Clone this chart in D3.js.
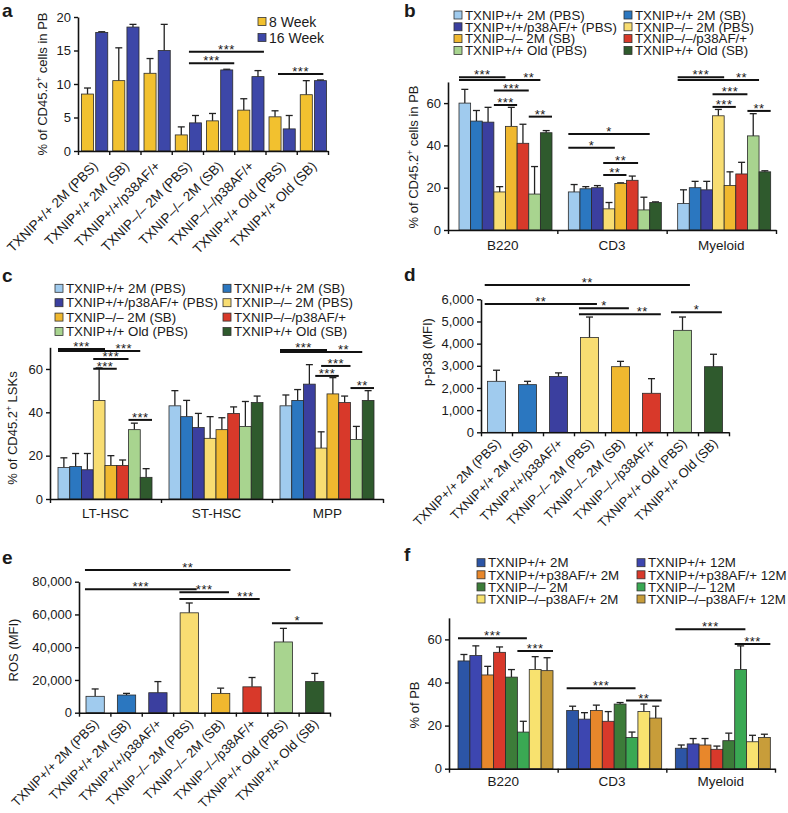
<!DOCTYPE html>
<html>
<head>
<meta charset="utf-8">
<script src="https://cdn.jsdelivr.net/npm/d3@7"></script>
<style>
  body { margin: 0; background: #fff; }
  text { font-family: "Liberation Sans", Arial, Helvetica, sans-serif; fill: #1a1a1a; }
</style>
</head>
<body>
<svg id="fig" width="788" height="813"></svg>
<script>
// ---- panel a ----
var aCats = ["TXNIP+/+ 2M (PBS)", "TXNIP+/+ 2M (SB)", "TXNIP+/+/p38AF/+", "TXNIP–/– 2M (PBS)",
             "TXNIP–/– 2M (SB)", "TXNIP–/–/p38AF/+", "TXNIP+/+ Old (PBS)", "TXNIP+/+ Old (SB)"];
var aSeries = ["8 Week", "16 Week"];
var aColors = ["#f2c12f", "#3d47a8"];
var a8w = [8.5, 10.5, 11.6, 2.4, 4.5, 6.1, 5.1, 8.4];
var a8wTop = [9.4, 15.4, 13.8, 3.6, 5.6, 7.8, 6.0, 10.5];
var a16w = [17.7, 18.5, 15.0, 4.2, 12.1, 11.1, 3.3, 10.5];
var a16wTop = [17.8, 18.9, 18.9, 5.3, 12.2, 12.0, 5.3, 10.6];
var aTicks = [0, 5, 10, 15, 20];
// [from, to (group units), y, label]
var aSig = [[3.55, 5.95, 14.8, "***"], [3.55, 5.0, 13.1, "***"], [6.4, 7.85, 11.5, "***"]];

// ---- panels b, c, d, e share these groups ----
var grpLegend = ["TXNIP+/+ 2M (PBS)", "TXNIP+/+ 2M (SB)", "TXNIP+/+/p38AF/+ (PBS)", "TXNIP–/– 2M (PBS)",
                 "TXNIP–/– 2M (SB)", "TXNIP–/–/p38AF/+", "TXNIP+/+ Old (PBS)", "TXNIP+/+ Old (SB)"];
var grpColors = ["#a0cbee", "#2b77c0", "#3b3f9f", "#f8dd72", "#f0b82f", "#d8392a", "#a8d48f", "#2f5a2d"];

// ---- panel b ----
var bCats = ["B220", "CD3", "Myeloid"];
var bB220 = [60, 51.5, 51, 18, 49, 41, 17, 46];
var bB220Top = [66.5, 56.5, 58, 20.5, 58, 50, 30, 47];
var bCD3 = [18, 19.5, 20, 10, 22, 23.5, 9.5, 13];
var bCD3Top = [21.5, 20.5, 21, 13, 22.3, 25.5, 15.5, 13.3];
var bMyeloid = [12.5, 20, 19, 54, 21, 26.5, 44.5, 27.5];
var bMyeloidTop = [19, 23, 23, 57, 27.5, 32, 55, 28];
var bTicks = [0, 20, 40, 60];
// [category, from, to (bar units), y, label, label position]
var bSig = [[0, 0, 4, 72.2, "***"], [0, 0, 7, 70.9, "**", 6], [0, 3, 6, 65.9, "***"], [0, 3, 5, 59.1, "***"], [0, 6, 8, 53.6, "**"],
            [1, 0, 7, 45.4, "*"], [1, 0, 4, 38.9, "*"], [1, 3, 6, 31.7, "**"], [1, 3, 5, 26.0, "**"],
            [2, 0, 4, 72.2, "***"], [2, 0, 7, 70.9, "**", 5.5], [2, 3, 6, 64.2, "***"], [2, 3, 5, 58.2, "***"], [2, 6, 8, 56.3, "**"]];

// ---- panel c ----
var cCats = ["LT-HSC", "ST-HSC", "MPP"];
var cLT = [14.5, 15, 13.5, 45.5, 15.5, 15.5, 32, 10];
var cLTTop = [19, 21, 21, 60.5, 20, 18, 35, 14];
var cST = [43, 38, 33, 28, 32, 39.5, 33.5, 44.5];
var cSTTop = [50, 45.5, 39.5, 38, 37.5, 42.5, 45, 47.5];
var cMPP = [43, 45.5, 53, 23.5, 48.5, 44.5, 27.5, 45.5];
var cMPPTop = [48, 50.5, 62, 31, 56, 47.5, 33.5, 50];
var cTicks = [0, 20, 40, 60];
var cSig = [[0, 0, 4, 69.2, "***"], [0, 0, 7, 68.3, "***", 5.6], [0, 3, 6, 64.6, "***"], [0, 3, 5, 60.1, "***"], [0, 6, 8, 36.5, "***"],
            [2, 0, 4, 68.8, "***"], [2, 0, 7, 67.8, "**", 5.4], [2, 3.5, 6, 61.4, "***"], [2, 3, 5, 56.8, "***"], [2, 6, 8, 51.2, "**"]];

// ---- panel d ----
var dVals = [2300, 2150, 2520, 4280, 2960, 1760, 4600, 2960];
var dTop = [2800, 2300, 2680, 5200, 3200, 2420, 5200, 3520];
var dTicks = [0, 1000, 2000, 3000, 4000, 5000, 6000];
var dSig = [[0.12, 6.74, 6644, "**"], [0.12, 3.74, 5787, "**"], [3.16, 4.77, 5593, "*"], [3.16, 5.8, 5322, "**", 5.2], [6.13, 7.77, 5413, "*"]];

// ---- panel e ----
var eVals = [10000, 10800, 12200, 61000, 11800, 15800, 43200, 19000];
var eTop = [14500, 11800, 19000, 67000, 15000, 21500, 51500, 24000];
var eTicks = [0, 20000, 40000, 60000, 80000];
var eSig = [[0.19, 6.74, 87150, "**"], [0.19, 3.75, 75360, "***"], [3.2, 4.78, 73530, "***"], [3.2, 5.76, 69430, "***", 5.3], [6.15, 7.77, 54600, "*"]];

// ---- panel f ----
var fLegend = ["TXNIP+/+ 2M", "TXNIP+/+ 12M", "TXNIP+/+p38AF/+ 2M", "TXNIP+/+p38AF/+ 12M",
               "TXNIP–/– 2M", "TXNIP–/– 12M", "TXNIP–/–p38AF/+ 2M", "TXNIP–/–p38AF/+ 12M"];
var fColors = ["#2c55a6", "#3d46b0", "#e8872b", "#d8392b", "#3c7c39", "#3aa853", "#f8e26f", "#c89d3a"];
var fCats = ["B220", "CD3", "Myeloid"];
var fB220 = [50, 52.5, 43.5, 54, 42.5, 17, 46, 45.5];
var fB220Top = [53, 57, 47.5, 56.5, 46, 22, 52, 51.5];
var fCD3 = [27, 23, 27, 22, 30, 14.5, 26.5, 23.5];
var fCD3Top = [29, 26, 29.5, 26.5, 30.7, 17, 30, 29];
var fMyeloid = [9.5, 11.5, 11, 9, 13, 46, 12.5, 14.5];
var fMyeloidTop = [11, 14, 14, 10.5, 16.5, 57, 15.5, 16];
var fTicks = [0, 20, 40, 60];
var fSig = [[0, 0, 5.8, 60.5, "***"], [0, 5, 8, 54.6, "***"], [1, 0, 5.8, 37.3, "***"], [1, 5, 8, 31.6, "**"],
            [2, 0, 5.9, 64.7, "***"], [2, 5, 8, 57.9, "***"]];

var svg = d3.select("#fig");

function panel(o) {
    var g = svg.append("g");
    var n = o.cats.length;
    var y = d3.scaleLinear().domain([0, o.ymax]).range([o.y0, o.yTop]);
    var x = d3.scaleBand().domain(d3.range(n)).range([o.x0, o.x1]);
    var xi = d3.scaleBand().domain(d3.range(o.rows[0].length)).range(o.inner).paddingInner(o.pad || 0);
    var xu = d3.scaleLinear().domain([0, n]).range([o.x0, o.x1]);

    var flat = [];
    o.rows.forEach(function(row, ci) {
        row.forEach(function(v, si) {
            flat.push({ci: ci, si: si, v: v, top: o.tops[ci][si]});
        });
    });

    // error bars first, bars drawn over them
    var eb = g.selectAll("g.err").data(flat).join("g").attr("class", "err")
        .attr("stroke", "#222").attr("stroke-width", 1.3);
    eb.append("line")
        .attr("x1", function(d) { return x(d.ci) + xi(d.si) + xi.bandwidth() / 2; })
        .attr("x2", function(d) { return x(d.ci) + xi(d.si) + xi.bandwidth() / 2; })
        .attr("y1", function(d) { return y(d.v); })
        .attr("y2", function(d) { return y(d.top); });
    eb.append("line")
        .attr("x1", function(d) { return x(d.ci) + xi(d.si) + xi.bandwidth() / 2 - 3.5; })
        .attr("x2", function(d) { return x(d.ci) + xi(d.si) + xi.bandwidth() / 2 + 3.5; })
        .attr("y1", function(d) { return y(d.top); })
        .attr("y2", function(d) { return y(d.top); });

    g.selectAll("rect.bar").data(flat).join("rect").attr("class", "bar")
        .attr("x", function(d) { return x(d.ci) + xi(d.si); })
        .attr("width", xi.bandwidth())
        .attr("y", function(d) { return y(d.v); })
        .attr("height", function(d) { return o.y0 - y(d.v); })
        .attr("fill", function(d) { return o.color(d.ci, d.si); })
        .attr("stroke", "#2a2a2a").attr("stroke-width", 0.8);

    // axes
    var ya = g.append("g").attr("transform", "translate(" + o.x0 + ",0)")
        .call(d3.axisLeft(y).tickValues(o.ticks).tickSize(4).tickSizeOuter(0).tickFormat(o.fmt || d3.format("d")));
    var xa = g.append("g").attr("transform", "translate(0," + o.y0 + ")")
        .call(d3.axisBottom(xu).tickValues(d3.range(n + 1)).tickSize(4).tickSizeOuter(0).tickFormat(""));
    [ya, xa].forEach(function(a) {
        a.select(".domain").attr("stroke", "#111").attr("stroke-width", 1.6);
        a.selectAll(".tick line").attr("stroke", "#111").attr("stroke-width", 1.4);
        a.selectAll(".tick text").attr("font-size", 13).attr("fill", "#1a1a1a")
            .attr("font-family", "Liberation Sans, Arial, sans-serif");
    });
    ya.selectAll(".tick text").attr("x", -7);

    // category labels
    if (o.rotate) {
        g.selectAll("text.cat").data(o.cats).join("text").attr("class", "cat")
            .attr("transform", function(d, i) {
                return "translate(" + (x(i) + x.bandwidth() / 2 + 5) + "," + (o.y0 + o.catDy) + ") rotate(-45)";
            })
            .attr("text-anchor", "end").attr("font-size", o.catSize)
            .text(function(d) { return d; });
    } else {
        g.selectAll("text.cat").data(o.cats).join("text").attr("class", "cat")
            .attr("x", function(d, i) { return x(i) + x.bandwidth() / 2; })
            .attr("y", o.y0 + o.catDy)
            .attr("text-anchor", "middle").attr("font-size", 13.5)
            .text(function(d) { return d; });
    }

    // significance bars
    var sx = function(s, u) {
        return o.sigByBar ? x(s[0]) + o.inner[0] + u * xi.step() : xu(u);
    };
    var k = o.sigByBar ? 1 : 0;
    var sg = g.selectAll("g.sig").data(o.sig).join("g").attr("class", "sig");
    sg.append("line")
        .attr("x1", function(s) { return sx(s, s[k]); })
        .attr("x2", function(s) { return sx(s, s[k + 1]); })
        .attr("y1", function(s) { return y(s[k + 2]); })
        .attr("y2", function(s) { return y(s[k + 2]); })
        .attr("stroke", "#111").attr("stroke-width", 2);
    sg.append("text")
        .attr("x", function(s) { return sx(s, s[k + 4] != null ? s[k + 4] : (s[k] + s[k + 1]) / 2); })
        .attr("y", function(s) { return y(s[k + 2]) + 2; })
        .attr("text-anchor", "middle").attr("font-size", 13).attr("letter-spacing", 0.5)
        .text(function(s) { return s[k + 3]; });

    // y title
    var t = g.append("text")
        .attr("transform", "translate(" + o.tx + "," + o.ty + ") rotate(-90)")
        .attr("text-anchor", "middle").attr("dy", "0.35em").attr("font-size", 13);
    o.title.forEach(function(p) {
        var ts = t.append("tspan").text(p[0]);
        if (p[1]) ts.attr("baseline-shift", "super").attr("font-size", 8.5);
    });

    // panel letter
    g.append("text").attr("x", o.lx).attr("y", o.ly)
        .attr("font-size", 19).attr("font-weight", "bold").text(o.letter);
    return g;
}

function legend(items, colors, xs, y0, dy, size) {
    var g = svg.append("g");
    var it = g.selectAll("g").data(items).join("g")
        .attr("transform", function(d, i) {
            return "translate(" + xs[i % xs.length] + "," + (y0 + Math.floor(i / xs.length) * dy) + ")";
        });
    it.append("rect").attr("x", 0).attr("y", -4).attr("width", 8).attr("height", 8)
        .attr("fill", function(d, i) { return colors[i]; })
        .attr("stroke", "#333").attr("stroke-width", 0.8);
    it.append("text").attr("x", 11).attr("dy", "0.36em").attr("font-size", size)
        .text(function(d) { return d; });
}

var pbTitle = [["% of CD45.2"], ["+", true], [" cells in PB"]];

// a
panel({
    letter: "a", lx: 2, ly: 17,
    cats: aCats, rows: aCats.map(function(c, i) { return [a8w[i], a16w[i]]; }),
    tops: aCats.map(function(c, i) { return [a8wTop[i], a16wTop[i]]; }),
    color: function(ci, si) { return aColors[si]; },
    x0: 78, x1: 328, y0: 151, yTop: 17, ymax: 20, ticks: aTicks,
    inner: [3.5, 29.75], pad: 0.15, rotate: true, catDy: 16, catSize: 13.5,
    sig: aSig, sigByBar: false, title: pbTitle, tx: 42, ty: 84
});
legend(aSeries, aColors, [258], 21.5, 16, 14);

// b
panel({
    letter: "b", lx: 404, ly: 17,
    cats: bCats, rows: [bB220, bCD3, bMyeloid], tops: [bB220Top, bCD3Top, bMyeloidTop],
    color: function(ci, si) { return grpColors[si]; },
    x0: 448, x1: 776, y0: 230, yTop: 230 - 70 * 2.115, ymax: 70, ticks: bTicks, catDy: 20,
    inner: [11, 104], sig: bSig, sigByBar: true, title: pbTitle, tx: 413, ty: 157
});
legend(grpLegend, grpColors, [454, 624], 15, 11.8, 13.3);

// c
panel({
    letter: "c", lx: 2, ly: 282,
    cats: cCats, rows: [cLT, cST, cMPP], tops: [cLTTop, cSTTop, cMPPTop],
    color: function(ci, si) { return grpColors[si]; },
    x0: 50, x1: 383, y0: 499, yTop: 499 - 70 * 2.167, ymax: 70, ticks: cTicks, catDy: 19,
    inner: [8, 102], sig: cSig, sigByBar: true,
    title: [["% of CD45.2"], ["+", true], [" LSKs"]], tx: 12, ty: 428
});
legend(grpLegend, grpColors, [55, 223], 288.3, 14.4, 13.3);

// d
panel({
    letter: "d", lx: 404, ly: 281,
    cats: aCats, rows: dVals.map(function(v) { return [v]; }), tops: dTop.map(function(v) { return [v]; }),
    color: function(ci) { return grpColors[ci]; },
    x0: 481, x1: 729, y0: 432.3, yTop: 299.3, ymax: 6000, ticks: dTicks, fmt: d3.format(","),
    inner: [6.5, 24.5], rotate: true, catDy: 12, catSize: 13, sig: dSig, sigByBar: false,
    title: [["p-p38 (MFI)"]], tx: 427, ty: 352
});

// e
panel({
    letter: "e", lx: 2, ly: 564,
    cats: aCats, rows: eVals.map(function(v) { return [v]; }), tops: eTop.map(function(v) { return [v]; }),
    color: function(ci) { return grpColors[ci]; },
    x0: 79, x1: 330, y0: 712.7, yTop: 581.7, ymax: 80000, ticks: eTicks, fmt: d3.format(","),
    inner: [7, 25.3], rotate: true, catDy: 12, catSize: 13, sig: eSig, sigByBar: false,
    title: [["ROS (MFI)"]], tx: 13, ty: 650
});

// f
panel({
    letter: "f", lx: 404, ly: 561,
    cats: fCats, rows: [fB220, fCD3, fMyeloid], tops: [fB220Top, fCD3Top, fMyeloidTop],
    color: function(ci, si) { return fColors[si]; },
    x0: 449, x1: 775, y0: 768.7, yTop: 768.7 - 70 * 2.155, ymax: 70, ticks: fTicks, catDy: 17,
    inner: [9, 104], sig: fSig, sigByBar: true,
    title: [["% of PB"]], tx: 414, ty: 705
});
legend(fLegend, fColors, [477, 637], 562.7, 12.1, 13.3);
</script>
</body>
</html>
